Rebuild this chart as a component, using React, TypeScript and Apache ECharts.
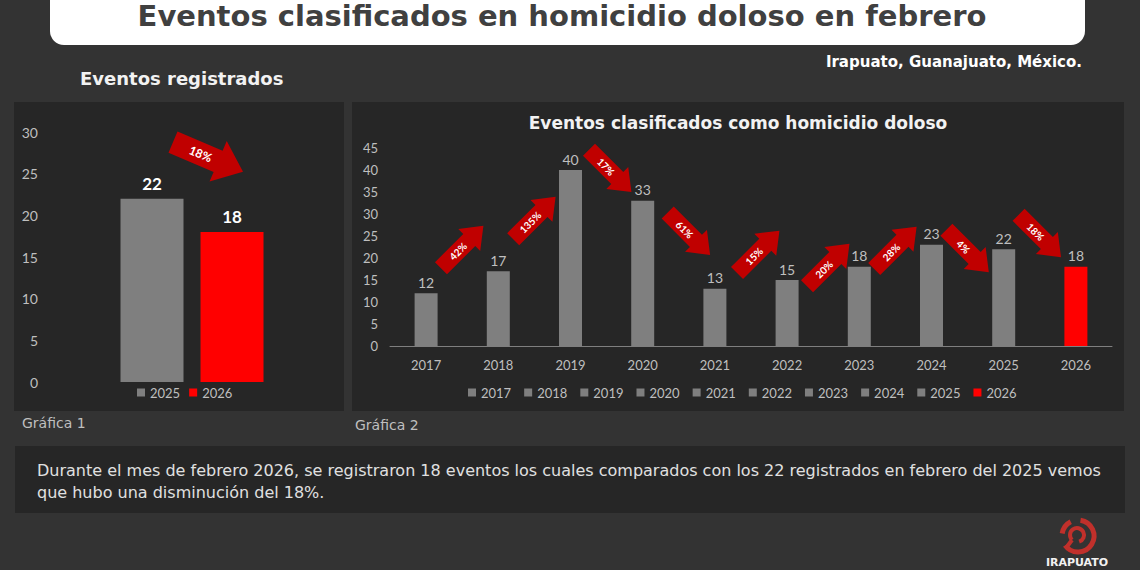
import { useEffect, useRef } from "react";
import * as echarts from "echarts";

// ---------- data ----------
const years = ["2017", "2018", "2019", "2020", "2021", "2022", "2023", "2024", "2025", "2026"];
const homicidios = [12, 17, 40, 33, 13, 15, 18, 23, 22, 18];
const arrowLabels = ["42%", "135%", "17%", "61%", "15%", "20%", "28%", "4%", "18%"];
const arrowLevels = [22.5, 29.1, 39.8, 25.5, 21.4, 18.4, 22.3, 21.6, 25.0];
const arrowShift = [0.5, 0.5, 0.55, 0.64, 0.6, 0.57, 0.5, 0.5, 0.5];

const febSeries = ["2025", "2026"];
const febValues = [22, 18];
const febArrowLabel = "18%";
const febArrowLevel = 27;

const rightTicks = { min: 0, max: 45, interval: 5 };
const leftTicks = { min: 0, max: 30, interval: 5 };

// ---------- styles ----------
const FONT = "Lato, 'Open Sans', sans-serif";
const WIDE = "'DejaVu Sans', sans-serif";
const GRAY = "#7f7f7f";
const RED = "#ff0000";
const ARROW = "#c00000";
const LABEL = "#bfbfbf";
const PANEL = "#262626";

function arrowShape(L: number, w: number, H: number, h: number) {
  const a = -L / 2;
  const b = L / 2 - h;
  const c = L / 2;
  return [
    [a, -w],
    [b, -w],
    [b, -H],
    [c, 0],
    [b, H],
    [b, w],
    [a, w],
  ];
}

export default function App() {
  const ref = useRef<HTMLDivElement>(null);

  useEffect(() => {
    document.body.style.margin = "0";
    const chart = echarts.init(ref.current!, null, { renderer: "svg" });

    const rightBars = years.map((y, i) => ({
      type: "bar",
      name: y,
      xAxisIndex: 1,
      yAxisIndex: 1,
      stack: "h",
      barWidth: 23,
      data: years.map((_, j) => (j === i ? homicidios[i] : "-")),
      itemStyle: { color: i === years.length - 1 ? RED : GRAY },
      label: {
        show: true,
        position: "top",
        distance: 4,
        color: LABEL,
        fontSize: 14,
        fontFamily: FONT,
      },
    }));

    const leftBars = febSeries.map((n, i) => ({
      type: "bar",
      name: n,
      xAxisIndex: 0,
      yAxisIndex: 0,
      barWidth: 63,
      barGap: "27%",
      data: [febValues[i]],
      itemStyle: { color: i === 0 ? GRAY : RED },
      label: {
        show: true,
        position: "top",
        distance: 7,
        color: "#ffffff",
        fontSize: 17,
        fontWeight: "bold",
        fontFamily: FONT,
      },
    }));

    const rightArrows = {
      type: "custom",
      name: "arrows",
      xAxisIndex: 1,
      yAxisIndex: 1,
      z: 5,
      data: arrowLevels.map((lv, i) => [i, lv]),
      renderItem: (params: any, api: any) => {
        const i = api.value(0);
        const lv = api.value(1);
        const p0 = api.coord([i, lv]);
        const p1 = api.coord([i + 1, lv]);
        const t = arrowShift[i];
        const up = homicidios[i + 1] > homicidios[i];
        const rot = up ? Math.PI / 4 : -Math.PI / 4;
        return {
          type: "group",
          x: p0[0] + (p1[0] - p0[0]) * t,
          y: p0[1],
          rotation: rot,
          children: [
            {
              type: "polygon",
              shape: { points: arrowShape(60, 8.5, 15.5, 20) },
              style: { fill: ARROW },
            },
            {
              type: "text",
              x: -6,
              y: 0,
              style: {
                text: arrowLabels[i],
                fill: "#ffffff",
                fontSize: 10,
                fontWeight: "bold",
                fontFamily: FONT,
                align: "center",
                verticalAlign: "middle",
              },
            },
          ],
        };
      },
    };

    const leftArrow = {
      type: "custom",
      name: "febArrow",
      xAxisIndex: 0,
      yAxisIndex: 0,
      z: 5,
      data: [[0, febArrowLevel]],
      renderItem: (params: any, api: any) => {
        const p = api.coord([api.value(0), api.value(1)]);
        return {
          type: "group",
          x: p[0] + 16,
          y: p[1],
          rotation: (-23 * Math.PI) / 180,
          children: [
            {
              type: "polygon",
              shape: { points: arrowShape(76, 11.5, 22, 27) },
              style: { fill: ARROW },
            },
            {
              type: "text",
              x: -8,
              y: 0,
              style: {
                text: febArrowLabel,
                fill: "#ffffff",
                fontSize: 12,
                fontWeight: "bold",
                fontFamily: FONT,
                align: "center",
                verticalAlign: "middle",
              },
            },
          ],
        };
      },
    };

    const option = {
      animation: false,
      backgroundColor: "#333333",
      textStyle: { fontFamily: FONT },
      graphic: [
        { type: "rect", z: -10, shape: { x: 50, y: -20, width: 1035, height: 65, r: 14 }, style: { fill: "#ffffff" } },
        {
          type: "text", z: -5, x: 562, y: 16,
          style: { text: "Eventos clasificados en homicidio doloso en febrero", fill: "#404040", font: `bold 29px ${WIDE}`, align: "center", verticalAlign: "middle" },
        },
        {
          type: "text", z: -5, x: 1082, y: 62,
          style: { text: "Irapuato, Guanajuato, México.", fill: "#ffffff", font: `bold 15px ${WIDE}`, align: "right", verticalAlign: "middle" },
        },
        {
          type: "text", z: -5, x: 80, y: 78,
          style: { text: "Eventos registrados", fill: "#f2f2f2", font: `bold 18px ${WIDE}`, align: "left", verticalAlign: "middle" },
        },
        { type: "rect", z: -10, shape: { x: 14, y: 102, width: 330, height: 309 }, style: { fill: PANEL } },
        { type: "rect", z: -10, shape: { x: 352, y: 102, width: 772, height: 309 }, style: { fill: PANEL } },
        {
          type: "text", z: -5, x: 738, y: 123,
          style: { text: "Eventos clasificados como homicidio doloso", fill: "#f2f2f2", font: `bold 17px ${WIDE}`, align: "center", verticalAlign: "middle" },
        },
        {
          type: "text", z: -5, x: 22, y: 423,
          style: { text: "Gráfica 1", fill: LABEL, font: `14px ${WIDE}`, align: "left", verticalAlign: "middle" },
        },
        {
          type: "text", z: -5, x: 355, y: 425,
          style: { text: "Gráfica 2", fill: LABEL, font: `14px ${WIDE}`, align: "left", verticalAlign: "middle" },
        },
        { type: "rect", z: -10, shape: { x: 15, y: 446, width: 1110, height: 67 }, style: { fill: PANEL } },
        {
          type: "text", z: -5, x: 37, y: 470,
          style: {
            text: "Durante el mes de febrero 2026, se registraron 18 eventos los cuales comparados con los 22 registrados en febrero del 2025 vemos",
            fill: "#e0e0e0", font: `16px ${WIDE}`, align: "left", verticalAlign: "middle",
          },
        },
        {
          type: "text", z: -5, x: 37, y: 492,
          style: { text: "que hubo una disminución del 18%.", fill: "#e0e0e0", font: `16px ${WIDE}`, align: "left", verticalAlign: "middle" },
        },
        // logo
        {
          type: "arc", z: -5,
          shape: { cx: 1078, cy: 536, r: 16, startAngle: -Math.PI * 0.45, endAngle: Math.PI * 0.8, clockwise: true },
          style: { stroke: "#c0302b", lineWidth: 5, fill: null },
        },
        {
          type: "arc", z: -5,
          shape: { cx: 1077, cy: 535, r: 7, startAngle: Math.PI * 0.75, endAngle: Math.PI * 2.4, clockwise: true },
          style: { stroke: "#c0302b", lineWidth: 4, fill: null },
        },
        {
          type: "line", z: -5,
          shape: { x1: 1072, y1: 540, x2: 1066, y2: 548 },
          style: { stroke: "#c0302b", lineWidth: 4 },
        },
        {
          type: "arc", z: -5,
          shape: { cx: 1078, cy: 536, r: 16, startAngle: Math.PI * 1.05, endAngle: Math.PI * 1.35, clockwise: true },
          style: { stroke: "#c0302b", lineWidth: 5, fill: null },
        },
        {
          type: "text", z: -5, x: 1077, y: 557,
          style: { text: "IRAPUATO", fill: "#f2f2f2", font: `bold 11px ${WIDE}`, align: "center", verticalAlign: "top" },
        },
      ],
      grid: [
        { left: 50, top: 132, width: 284, height: 250 },
        { left: 390, top: 148, width: 722, height: 198 },
      ],
      xAxis: [
        {
          type: "category", gridIndex: 0, data: ["Febrero"],
          axisLine: { show: false }, axisTick: { show: false }, axisLabel: { show: false },
        },
        {
          type: "category", gridIndex: 1, data: years,
          axisLine: { show: true, lineStyle: { color: GRAY, width: 1 } },
          axisTick: { show: false },
          axisLabel: { color: LABEL, fontSize: 13, margin: 12, fontFamily: FONT },
        },
      ],
      yAxis: [
        {
          type: "value", gridIndex: 0, ...leftTicks,
          axisLine: { show: false }, axisTick: { show: false }, splitLine: { show: false },
          axisLabel: { color: LABEL, fontSize: 14, margin: 12, fontFamily: FONT },
        },
        {
          type: "value", gridIndex: 1, ...rightTicks,
          axisLine: { show: false }, axisTick: { show: false }, splitLine: { show: false },
          axisLabel: { color: LABEL, fontSize: 13, margin: 12, fontFamily: FONT },
        },
      ],
      legend: [
        {
          data: febSeries, left: 132, top: 381, icon: "rect", itemWidth: 8, itemHeight: 8, itemGap: 9,
          textStyle: { color: LABEL, fontSize: 13, fontFamily: FONT }, selectedMode: false,
        },
        {
          data: years, left: 463, top: 381, icon: "rect", itemWidth: 8, itemHeight: 8, itemGap: 13,
          textStyle: { color: LABEL, fontSize: 13, fontFamily: FONT }, selectedMode: false,
        },
      ],
      series: [...leftBars, leftArrow, ...rightBars, rightArrows],
    };

    chart.setOption(option as any);
    return () => chart.dispose();
  }, []);

  return <div ref={ref} style={{ width: 1140, height: 570 }} />;
}
